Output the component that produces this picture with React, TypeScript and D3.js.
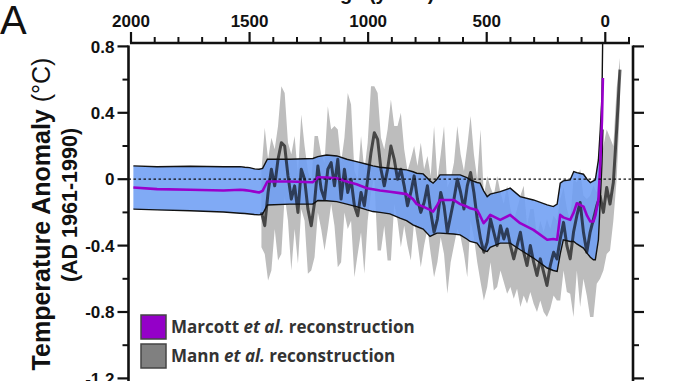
import React from "react";
import * as d3 from "d3";

// ---------- data ----------
const marcottYears = [1990, 1890, 1750, 1610, 1540, 1520, 1500, 1480, 1460, 1445, 1425, 1330, 1233, 1212, 1175, 1132, 1090, 1049, 1005, 980, 950, 908, 866, 838, 811, 795, 768, 739, 726, 710, 697, 640, 612, 584, 570, 541, 528, 513, 498, 485, 443, 401, 359, 303, 245, 219, 203, 190, 177, 148, 133, 120, 92, 77, 63, 50, 42, 29, 21, 14, 10];
const marcottMean = [-0.05, -0.06, -0.064, -0.068, -0.064, -0.066, -0.07, -0.075, -0.08, -0.07, -0.014, -0.014, -0.018, 0.012, 0.01, 0.006, -0.014, -0.03, -0.054, -0.06, -0.068, -0.076, -0.084, -0.09, -0.12, -0.15, -0.165, -0.185, -0.195, -0.16, -0.125, -0.125, -0.15, -0.165, -0.175, -0.185, -0.22, -0.265, -0.24, -0.215, -0.245, -0.215, -0.265, -0.305, -0.365, -0.36, -0.365, -0.215, -0.23, -0.245, -0.2, -0.145, -0.165, -0.22, -0.255, -0.255, -0.22, -0.125, 0.098, 0.357, 0.61];
const marcottUpper = [0.08, 0.075, 0.078, 0.075, 0.076, 0.072, 0.07, 0.062, 0.06, 0.065, 0.12, 0.12, 0.125, 0.136, 0.146, 0.14, 0.12, 0.106, 0.09, 0.08, 0.072, 0.066, 0.06, 0.056, 0.045, 0.036, 0.032, -0.01, -0.024, 0.0, 0.026, 0.026, 0.026, 0.01, -0.004, -0.02, -0.024, -0.07, -0.105, -0.09, -0.075, -0.054, -0.105, -0.125, -0.155, -0.165, -0.15, -0.024, -0.01, -0.004, 0.046, 0.04, 0.03, 0.0, -0.02, -0.01, -0.004, 0.116, 0.3, 0.5, 0.95];
const marcottLower = [-0.18, -0.185, -0.19, -0.198, -0.205, -0.207, -0.21, -0.213, -0.215, -0.21, -0.155, -0.15, -0.149, -0.128, -0.13, -0.135, -0.15, -0.165, -0.185, -0.195, -0.2, -0.209, -0.235, -0.25, -0.275, -0.285, -0.3, -0.345, -0.335, -0.325, -0.325, -0.33, -0.335, -0.36, -0.375, -0.385, -0.41, -0.43, -0.435, -0.41, -0.385, -0.385, -0.425, -0.475, -0.535, -0.55, -0.555, -0.45, -0.365, -0.375, -0.375, -0.39, -0.415, -0.445, -0.47, -0.485, -0.485, -0.365, -0.125, 0.1, 0.3];

const mannYears = [1450, 1436, 1422, 1408, 1394, 1380, 1366, 1352, 1338, 1324, 1310, 1296, 1282, 1268, 1254, 1240, 1226, 1212, 1198, 1184, 1170, 1156, 1142, 1128, 1114, 1100, 1086, 1072, 1058, 1044, 1030, 1016, 1002, 988, 974, 960, 946, 932, 918, 904, 890, 876, 862, 848, 834, 820, 806, 792, 778, 764, 750, 736, 722, 708, 694, 680, 666, 652, 638, 624, 610, 596, 582, 568, 554, 540, 526, 512, 498, 484, 470, 456, 442, 428, 414, 400, 386, 372, 358, 344, 330, 316, 302, 288, 274, 260, 246, 232, 218, 204, 190, 176, 162, 148, 134, 120, 106, 92, 78, 64, 50, 36, 22, 8, -6, -20, -34, -48, -62];
const mannMid = [-0.2, -0.28, -0.08, 0.06, -0.04, 0.12, 0.22, 0.2, 0.02, -0.12, -0.04, -0.2, 0.06, 0.0, -0.18, -0.28, -0.14, 0.08, -0.06, -0.12, 0.06, 0.1, -0.04, 0.12, -0.12, 0.06, -0.08, 0.0, -0.16, -0.22, -0.08, -0.16, 0.0, 0.16, 0.28, 0.24, 0.06, -0.04, 0.06, 0.2, 0.12, 0.0, 0.06, -0.04, -0.16, -0.08, 0.02, -0.12, -0.2, -0.14, -0.04, -0.2, -0.32, -0.24, -0.08, -0.16, -0.32, -0.22, -0.12, 0.0, -0.08, -0.18, -0.04, 0.04, -0.08, -0.24, -0.36, -0.44, -0.38, -0.24, -0.32, -0.4, -0.28, -0.36, -0.3, -0.4, -0.48, -0.4, -0.32, -0.44, -0.52, -0.4, -0.5, -0.58, -0.48, -0.56, -0.64, -0.52, -0.44, -0.48, -0.36, -0.26, -0.4, -0.48, -0.32, -0.22, -0.14, -0.32, -0.44, -0.32, -0.24, -0.16, -0.1, -0.2, -0.05, -0.15, -0.02, 0.3, 0.66];
const mannHi = [0.05, 0.31, 0.12, 0.25, 0.18, 0.32, 0.56, 0.52, 0.22, 0.15, 0.26, 0.02, 0.39, 0.2, 0.05, -0.02, 0.26, 0.26, 0.15, 0.1, 0.44, 0.3, 0.32, 0.3, 0.1, 0.25, 0.52, 0.45, 0.05, 0.0, 0.26, 0.05, 0.22, 0.56, 0.56, 0.52, 0.25, 0.18, 0.3, 0.48, 0.32, 0.32, 0.4, 0.18, 0.05, 0.12, 0.2, 0.08, 0.22, 0.06, 0.14, 0.02, 0.32, 0.0, 0.15, 0.32, -0.05, 0.0, 0.1, 0.32, 0.15, 0.05, 0.2, 0.38, 0.15, 0.0, 0.3, -0.1, 0.02, -0.05, -0.1, 0.02, -0.08, -0.15, -0.04, -0.18, -0.25, -0.18, -0.1, -0.04, -0.28, -0.18, -0.18, -0.35, -0.25, -0.32, -0.24, -0.3, -0.22, -0.25, -0.12, -0.05, -0.18, -0.25, 0.0, -0.02, 0.06, -0.1, -0.12, -0.1, -0.04, -0.08, 0.05, 0.2, 0.3, 0.25, 0.2, 0.55, 0.73];
const mannLo = [-0.41, -0.45, -0.61, -0.55, -0.3, -0.49, -0.45, -0.1, -0.25, -0.55, -0.3, -0.51, -0.18, -0.25, -0.57, -0.55, -0.47, -0.2, -0.3, -0.43, -0.3, -0.15, -0.28, -0.53, -0.5, -0.2, -0.3, -0.25, -0.59, -0.45, -0.32, -0.57, -0.25, -0.08, 0.02, -0.43, -0.43, -0.28, -0.49, -0.49, -0.15, -0.25, -0.41, -0.28, -0.4, -0.49, -0.25, -0.38, -0.53, -0.4, -0.3, -0.45, -0.59, -0.5, -0.35, -0.45, -0.69, -0.5, -0.4, -0.3, -0.35, -0.45, -0.59, -0.25, -0.35, -0.5, -0.62, -0.73, -0.65, -0.5, -0.67, -0.65, -0.55, -0.62, -0.69, -0.65, -0.72, -0.66, -0.77, -0.7, -0.75, -0.68, -0.75, -0.8, -0.73, -0.8, -0.83, -0.78, -0.7, -0.73, -0.73, -0.55, -0.68, -0.69, -0.83, -0.55, -0.77, -0.6, -0.7, -0.83, -0.83, -0.63, -0.6, -0.55, -0.45, -0.43, -0.25, 0.0, 0.45];

const xMajorTicks = [2000, 1500, 1000, 500, 0];
const xTickLabels = ["2000", "1500", "1000", "500", "0"];
const xMinorTicks = [1900, 1800, 1700, 1600, 1400, 1300, 1200, 1100, 900, 800, 700, 600, 400, 300, 200, 100, -100];
const yMajorTicks = [0.8, 0.4, 0, -0.4, -0.8, -1.2];
const yTickLabels = ["0.8", "0.4", "0", "-0.4", "-0.8", "-1.2"];
const yMinorTicks = [0.6, 0.2, -0.2, -0.6, -1.0];
const legendItems = [
  { name: "Marcott", color: "#9400C8" },
  { name: "Mann", color: "#808080" },
];

// ---------- chart ----------
export default function App() {
  const x = d3.scaleLinear().domain([2000, -100]).range([131, 629]);
  const y = d3.scaleLinear().domain([0.8, -1.2]).range([46.4, 378.4]);
  const leftX = 128.5;
  const rightX = 633;
  const topY = 43;

  const marcott = marcottYears.map((yr, i) => ({ yr, m: marcottMean[i], u: marcottUpper[i], l: marcottLower[i] }));
  const mann = mannYears.map((yr, i) => ({ yr, m: mannMid[i], h: mannHi[i], l: mannLo[i] }));

  const bandArea = d3.area<any>().x((d) => x(d.yr)).y0((d) => y(d.l)).y1((d) => y(d.u));
  const upperLine = d3.line<any>().x((d) => x(d.yr)).y((d) => y(d.u));
  const lowerLine = d3.line<any>().x((d) => x(d.yr)).y((d) => y(d.l));
  const meanLine = d3.line<any>().x((d) => x(d.yr)).y((d) => y(d.m));
  const mannArea = d3.area<any>().x((d) => x(d.yr)).y0((d) => y(d.l)).y1((d) => y(d.h));
  const mannLine = d3.line<any>().x((d) => x(d.yr)).y((d) => y(d.m));

  const boldFont = "'Liberation Sans', Arial, sans-serif";

  return (
    <svg width={678} height={381} style={{ display: "block", position: "absolute", left: 0, top: 0, background: "#fff" }}>
      <defs>
        <clipPath id="plotclip">
          <rect x={leftX} y={topY} width={rightX - leftX} height={381 - topY} />
        </clipPath>
      </defs>

      {/* panel letter */}
      <text x={0} y={34} fontFamily={boldFont} fontSize={40} fill="#111">A</text>

      {/* partial top axis title */}
      <text x={380} y={0} textAnchor="middle" fontFamily={boldFont} fontWeight="bold" fontSize={20} fill="#111">Age (yr BP)</text>

      <g clipPath="url(#plotclip)">
        <path d={mannArea(mann) || ""} fill="#BDBDBD" />
        <path d={bandArea(marcott) || ""} fill="#6E9EF4" fillOpacity={0.88} />
        <g style={{ mixBlendMode: "multiply" }}>
          <path d={mannLine(mann) || ""} fill="none" stroke="#5E5E5E" strokeWidth={3} strokeLinejoin="round" />
        </g>
        <path d={upperLine(marcott) || ""} fill="none" stroke="#111" strokeWidth={1.4} />
        <path d={lowerLine(marcott) || ""} fill="none" stroke="#111" strokeWidth={1.4} />
        <path d={meanLine(marcott) || ""} fill="none" stroke="#9900CC" strokeWidth={2.6} strokeLinejoin="round" />
        <line x1={leftX} x2={rightX} y1={y(0)} y2={y(0)} stroke="#111" strokeWidth={1.2} strokeDasharray="2.5,2.5" />
      </g>

      {/* top axis */}
      <line x1={x(2000) - 1} x2={x(-100) + 1} y1={topY} y2={topY} stroke="#111" strokeWidth={2.4} />
      {xMajorTicks.map((t, i) => (
        <g key={"xm" + t}>
          <line x1={x(t)} x2={x(t)} y1={topY} y2={topY - 11} stroke="#111" strokeWidth={2.2} />
          <text x={x(t)} y={27} textAnchor="middle" fontFamily={boldFont} fontWeight="bold" fontSize={17} fill="#111">{xTickLabels[i]}</text>
        </g>
      ))}
      {xMinorTicks.map((t) => (
        <line key={"xn" + t} x1={x(t)} x2={x(t)} y1={topY} y2={topY - 6} stroke="#111" strokeWidth={2} />
      ))}

      {/* left axis */}
      <line x1={leftX} x2={leftX} y1={y(0.8) - 1} y2={381} stroke="#111" strokeWidth={2.6} />
      {yMajorTicks.map((t, i) => (
        <g key={"ym" + t}>
          <line x1={leftX - 11} x2={leftX} y1={y(t)} y2={y(t)} stroke="#111" strokeWidth={2.2} />
          <text x={leftX - 14} y={y(t)} dy="0.36em" textAnchor="end" fontFamily={boldFont} fontWeight="bold" fontSize={17} fill="#111">{yTickLabels[i]}</text>
        </g>
      ))}
      {yMinorTicks.map((t) => (
        <line key={"yn" + t} x1={leftX - 6} x2={leftX} y1={y(t)} y2={y(t)} stroke="#111" strokeWidth={2} />
      ))}

      {/* right axis */}
      <line x1={rightX} x2={rightX} y1={y(0.8) - 1} y2={381} stroke="#111" strokeWidth={2.6} />
      {yMajorTicks.map((t) => (
        <line key={"rm" + t} x1={rightX} x2={rightX + 11} y1={y(t)} y2={y(t)} stroke="#111" strokeWidth={2.2} />
      ))}
      {yMinorTicks.map((t) => (
        <line key={"rn" + t} x1={rightX} x2={rightX + 6} y1={y(t)} y2={y(t)} stroke="#111" strokeWidth={2} />
      ))}

      {/* y axis title */}
      <text transform="translate(50,214) rotate(-90)" textAnchor="middle" fontFamily={boldFont} fontSize={25} fill="#111">
        <tspan fontWeight="bold">Temperature Anomaly </tspan>
        <tspan>(°C)</tspan>
      </text>
      <text transform="translate(77,205) rotate(-90)" textAnchor="middle" fontFamily={boldFont} fontWeight="bold" fontSize={21.5} fill="#111">(AD 1961-1990)</text>

      {/* legend */}
      {legendItems.map((it, i) => (
        <g key={it.name} transform={`translate(141,${315 + i * 29})`}>
          <rect x={0} y={0} width={25} height={24} fill={it.color} stroke="#444" strokeWidth={1.5} />
          <text x={30} y={18} fontFamily="'Open Sans', sans-serif" fontWeight="bold" fontSize={17} fill="#333">
            {it.name} <tspan fontStyle="italic">et al.</tspan> reconstruction
          </text>
        </g>
      ))}
    </svg>
  );
}
